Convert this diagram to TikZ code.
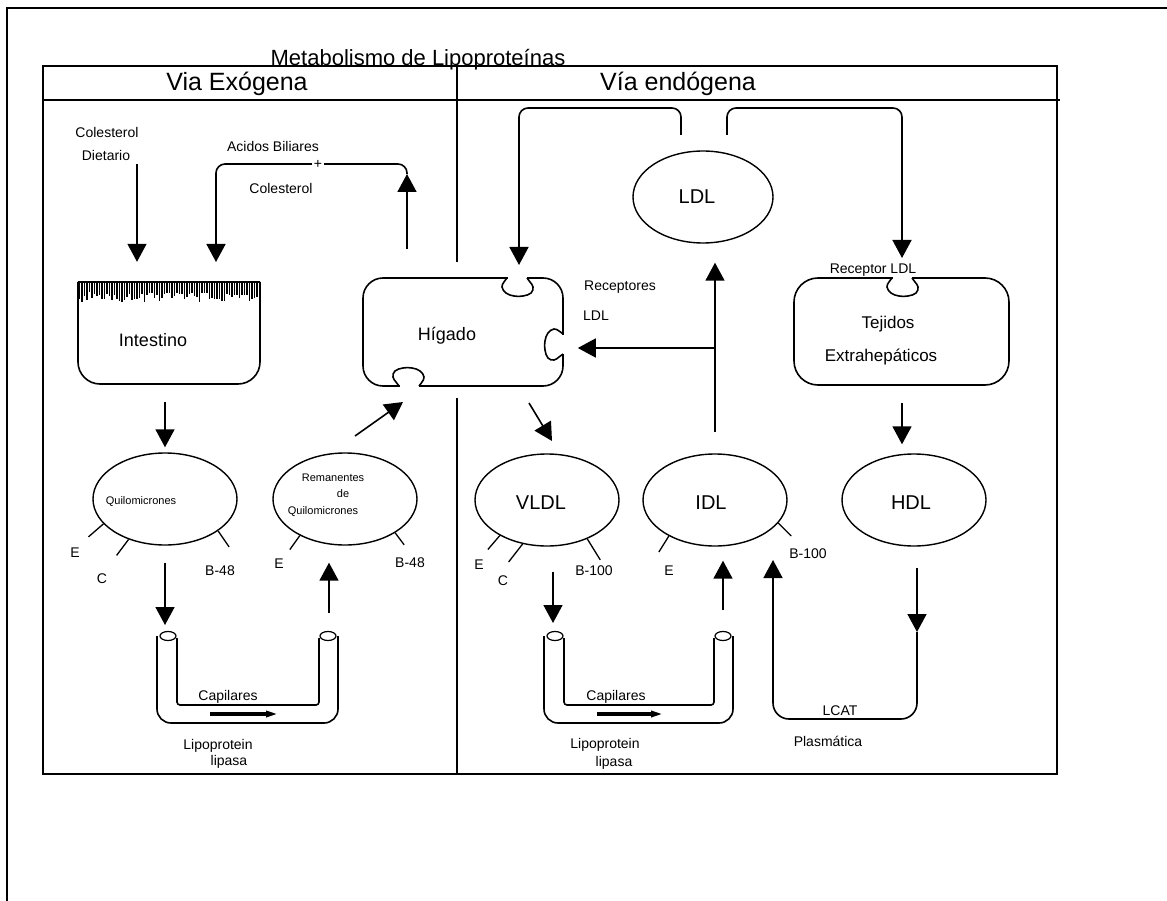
\documentclass[tikz,border=0pt]{standalone}
\usepackage{fontspec}
\setmainfont{Liberation Sans}
\usetikzlibrary{arrows.meta, positioning, shapes.geometric, calc}

\tikzset{
  linea/.style={line width=1.6pt},
  flecha/.style={linea, -{Triangle[length=18pt,width=19pt]}},
  particula/.style={ellipse, draw, line width=1.4pt, minimum width=144pt, minimum height=92pt, inner sep=0pt},
  organo/.style={draw, line width=1.6pt, rounded corners=20pt, inner sep=0pt},
  txt/.style={font=\fontsize{14}{16}\selectfont, inner sep=0pt},
  chico/.style={font=\fontsize{11}{13}\selectfont, inner sep=0pt},
  grande/.style={font=\fontsize{18}{20}\selectfont, inner sep=0pt},
  sigla/.style={font=\fontsize{20}{22}\selectfont, inner sep=0pt},
  cabecera/.style={font=\fontsize{25}{27}\selectfont, inner sep=0pt},
  espiga/.style={line width=1.3pt},
  flujo/.style={line width=3.5pt, -{Triangle[length=12pt,width=6pt]}},
}

% capilar: borde exterior izquierdo y derecho
\newcommand{\capilar}[2]{%
  \draw[linea, rounded corners=14pt] (#1,636) -- (#1,723) -- (#2,723) -- (#2,636);
  \draw[linea, rounded corners=3pt] ({#1+20},638) -- ({#1+20},705) -- ({#2-19},705) -- ({#2-19},638);
  \draw[line width=1.2pt] ({#1+11},636) ellipse [x radius=8pt, y radius=4.5pt];
  \draw[line width=1.2pt] ({#2-10},636) ellipse [x radius=8pt, y radius=4.5pt];
}
% receptor: hueco en el borde y bolsillo hacia dentro
\newcommand{\receptor}[2]{%
  \begin{scope}[shift={#1}, rotate=#2]
    \fill[white] (-9.5,-1.8) rectangle (9.5,1.8);
    \draw[linea] plot[smooth, tension=0.7] coordinates {(-10,0) (-13,4) (-15,9) (-11,15) (-3,18) (6,18) (14,15) (16,9) (13,4) (10,0)};
  \end{scope}}

\begin{document}
\begin{tikzpicture}[x=1pt, y=-1pt]
\useasboundingbox (0,0) rectangle (1167,901);

% marco y tabla
\draw[line width=2.6pt] (7,901) -- (7,8) -- (1167,8);
\node[font=\fontsize{22}{24}\selectfont, anchor=base, inner sep=0pt] (titulo) at (418,66) {Metabolismo de Lipoproteínas};
\draw[linea] (43,66) rectangle (1057,774);
\draw[linea] (43,100) -- (1060,100);
\draw[linea] (457,66) -- (457,262);
\draw[linea] (457,398) -- (457,774);
\node[cabecera] (exo) at (237,84) {Via Exógena};
\node[cabecera] (endo) at (678,84) {Vía endógena};

% via exogena
\node[txt] (col1) at (107,132) {Colesterol};
\node[txt] (dietario) at (106,155) {Dietario};
\node[txt] (acidos) at (273,146) {Acidos Biliares};
\node[txt] (col2) at (281,188) {Colesterol};

\draw[linea] (78,282) -- (260,282);
\draw[linea, rounded corners=22pt] (78,282) -- (78,384) -- (260,384) -- (260,282);
\pgfmathsetseed{11}
\foreach \k in {79.5,82,...,259} {
  \pgfmathsetmacro\h{292+11*rnd}
  \draw[line width=1.2pt] (\k,282) -- (\k,\h);
}
\node[minimum width=182pt, minimum height=102pt, inner sep=0pt] (intestino) at (169,333) {};
\node[grande] (intestinotxt) at (153,340) {Intestino};

\coordinate (dietA) at (137,164);
\coordinate (biliA) at (407,174);
\draw[flecha, shorten >=20pt] (dietA) -- (dietA |- intestino.north);
\draw[flecha, rounded corners=9pt] (biliA) |- (216,164) -- (216,262);
\node[txt, fill=white, inner sep=1.5pt] (mas) at (318,164) {+};

\node[organo, minimum width=200pt, minimum height=108pt] (higado) at (463,332) {};
\node[grande] (higadotxt) at (447,336) {Hígado};
\receptor{(517,278)}{0}
\receptor{(409,386)}{180}
\receptor{(563,344)}{-90}
\draw[flecha, shorten <=28pt] (higado.north -| biliA) -- (biliA);

\node[particula] (quilo) at (165,499) {};
\node[chico] (quilotxt) at (141,502) {Quilomicrones};
\node[particula] (reman) at (345,499) {};
\node[chico] (remantxt1) at (333,478) {Remanentes};
\node[chico] (remantxt2) at (343,494) {de};
\node[chico] (remantxt3) at (323,512) {Quilomicrones};

\draw[flecha, shorten <=18pt, shorten >=5pt] (intestino.south -| quilo.north) -- (quilo.north);
\coordinate (remA) at (355,436);
\coordinate (higA) at (403,402);
\draw[flecha] (remA) -- (higA);
\draw[espiga] (quilo.202) -- ++(-15,13);
\draw[espiga] (quilo.228) -- ++(-12,16);
\draw[espiga] (quilo.329) -- ++(11,16);
\node[txt] (qE) at (75,553) {E};
\node[txt] (qC) at (102,579) {C};
\node[txt] (qB) at (220,571) {B-48};
\draw[espiga] (reman.219) -- ++(-10,14);
\draw[espiga] (reman.326) -- ++(9,12);
\node[txt] (rE) at (279,564) {E};
\node[txt] (rB) at (410,563) {B-48};

\capilar{157}{338}
\coordinate (capA1) at (165,625);
\coordinate (capA2) at (329,613);
\draw[flecha, shorten <=17pt] (quilo.south) -- (capA1);
\draw[flecha, shorten >=17pt] (capA2) -- (capA2 |- reman.south);
\node[txt] (capil1) at (228,697) {Capilares};
\draw[flujo] (210,714) -- (278,714);
\node[txt] (lipo1) at (218,746) {Lipoprotein};
\node[txt] (lipa1) at (229,762) {lipasa};

% via endogena
\node[particula, minimum width=140pt] (ldl) at (703,197) {};
\node[sigla] (ldltxt) at (697,197) {LDL};
\node[particula] (vldl) at (547,500) {};
\node[sigla] (vldltxt) at (541,503) {VLDL};
\node[particula] (idl) at (715,500) {};
\node[sigla] (idltxt) at (711,503) {IDL};
\node[particula] (hdl) at (914,500) {};
\node[sigla] (hdltxt) at (911,503) {HDL};

\node[organo, rounded corners=24pt, minimum width=215pt, minimum height=107pt] (tejidos) at (901.5,331.5) {};
\node[font=\fontsize{17}{19}\selectfont, inner sep=0pt] (tejtxt1) at (888,324) {Tejidos};
\node[font=\fontsize{17}{19}\selectfont, inner sep=0pt] (tejtxt2) at (881,357) {Extrahepáticos};
\receptor{(902,278)}{0}
\node[txt] (receptor) at (873,270) {Receptor LDL};
\node[txt] (receptores) at (620,287) {Receptores};
\node[txt] (recldl) at (596,316) {LDL};

\coordinate (ldlI) at (681,135);
\coordinate (ldlD) at (727,135);
\draw[flecha, rounded corners=9pt] (ldlI) |- (519,108) -- (519,265);
\draw[flecha, rounded corners=9pt] (ldlD) |- (902,108) -- (902,258);

\draw[flecha, shorten <=21pt, shorten >=19pt] (idl.north) -- (idl.north |- ldl.south);
\coordinate (cruce) at (715,348);
\draw[flecha, shorten >=14pt] (cruce) -- (cruce -| higado.east);

\coordinate (vA) at (529,403);
\coordinate (vB) at (552,441);
\draw[flecha] (vA) -- (vB);
\coordinate (tejA) at (902,403);
\draw[flecha, shorten >=9pt] (tejA) -- (tejA |- hdl.north);

\draw[espiga] (vldl.217) -- ++(-12,14);
\draw[espiga] (vldl.241) -- ++(-14,18);
\draw[espiga] (vldl.316) -- ++(13,21);
\node[txt] (vE) at (479,565) {E};
\node[txt] (vC) at (503,581) {C};
\node[txt] (vB) at (594,571) {B-100};
\draw[espiga] (idl.218) -- ++(-10,16);
\draw[espiga] (idl.340) -- ++(13,13);
\node[txt] (iE) at (669,571) {E};
\node[txt] (iB) at (808,554) {B-100};

\capilar{544}{733}
\coordinate (capB1) at (553,623);
\coordinate (capB2) at (723,610);
\draw[flecha, shorten <=25pt] (capB1 |- vldl.south) -- (capB1);
\draw[flecha, shorten >=14pt] (capB2) -- (capB2 |- idl.south);
\node[txt] (capil2) at (616,697) {Capilares};
\draw[flujo] (597,714) -- (663,714);
\node[txt] (lipo2) at (605,745) {Lipoprotein};
\node[txt] (lipa2) at (614,763) {lipasa};

\coordinate (hdlA) at (917,568);
\coordinate (hdlB) at (917,632);
\draw[flecha] (hdlA) -- (hdlB);
\draw[flecha, rounded corners=16pt] (hdlB) -- (917,719) -- (773,719) -- (773,560);
\node[txt] (lcat) at (840,711) {LCAT};
\node[txt] (plasma) at (828,741) {Plasmática};
\end{tikzpicture}
\end{document}
